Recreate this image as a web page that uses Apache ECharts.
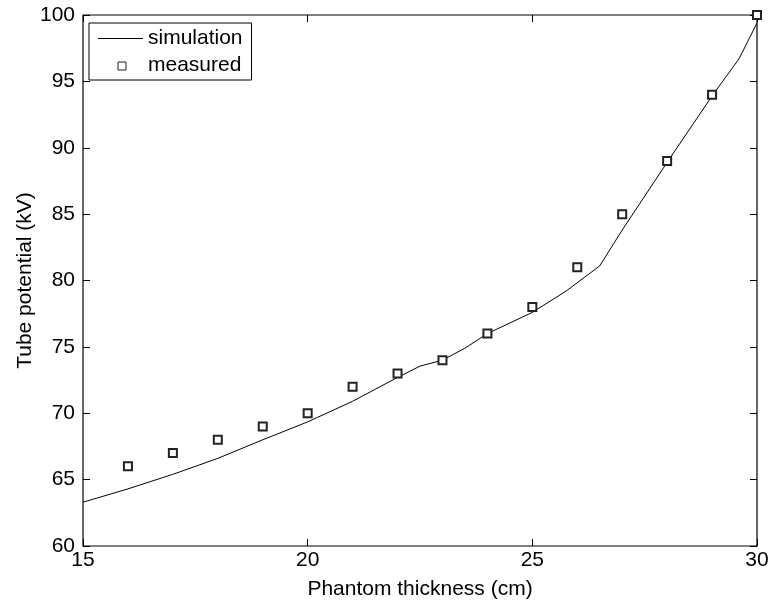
<!DOCTYPE html>
<html>
<head>
<meta charset="utf-8">
<script src="https://cdn.jsdelivr.net/npm/echarts@6/dist/echarts.min.js"></script>
<style>
  html, body { margin: 0; padding: 0; background: #fff; }
  #chart { width: 774px; height: 605px; }
</style>
</head>
<body>
<div id="chart"></div>
<script>
// simulation curve
var simX = [15, 16, 17, 18, 19, 20, 21, 22, 22.5, 23, 23.5, 24, 25, 25.75, 26.5, 27, 28, 29, 29.3, 29.6, 30];
var simY = [63.3, 64.3, 65.4, 66.6, 68.0, 69.35, 70.9, 72.7, 73.55, 74.0, 74.9, 76.0, 77.6, 79.2, 81.1, 83.8, 88.9, 93.9, 95.3, 96.7, 99.4];

// measured points
var measX = [16, 17, 18, 19, 20, 21, 22, 23, 24, 25, 26, 27, 28, 29, 30];
var measY = [66, 67, 68, 69, 70, 72, 73, 74, 76, 78, 81, 85, 89, 94, 100];

function pairs(xs, ys) {
    return xs.map(function(x, i) { return [x, ys[i]]; });
}

var font = 'Liberation Sans, Arial, sans-serif';
var fs = 21;

// 坐标轴
function axisBase(show) {
    return {
        type: 'value',
        axisLine: { show: false },
        axisTick: { show: true, inside: true, length: 7, lineStyle: { color: '#000' } },
        axisLabel: { show: show, color: '#000', fontSize: fs, fontFamily: font },
        splitLine: { show: false }
    };
}

var xBottom = Object.assign(axisBase(true), {
    min: 15, max: 30, interval: 5, position: 'bottom',
    name: 'Phantom thickness (cm)', nameLocation: 'middle', nameGap: 33,
    nameMoveOverlap: false,
    nameTextStyle: { color: '#000', fontSize: fs, fontFamily: font }
});
xBottom.axisLabel.margin = 4;
var xTop = Object.assign(axisBase(false), { min: 15, max: 30, interval: 5, position: 'top' });

var yLeft = Object.assign(axisBase(true), {
    min: 60, max: 100, interval: 5, position: 'left',
    name: 'Tube potential (kV)', nameLocation: 'middle', nameGap: 47,
    nameMoveOverlap: false,
    nameTextStyle: { color: '#000', fontSize: fs, fontFamily: font }
});
yLeft.axisLabel.margin = 8;
var yRight = Object.assign(axisBase(false), { min: 60, max: 100, interval: 5, position: 'right' });

echarts.init(document.getElementById('chart')).setOption({
    animation: false,
    grid: {
        left: 83, right: 17, top: 15, bottom: 57,
        show: true, borderColor: '#000', borderWidth: 1.2, backgroundColor: '#fff'
    },
    legend: [
        {
            // 图例框和文字
            orient: 'vertical',
            left: 89, top: 23,
            z: 4,
            selectedMode: false,
            backgroundColor: '#fff',
            borderColor: '#000', borderWidth: 1,
            padding: [5, 9, 4, 9],
            itemGap: 6,
            itemWidth: 45, itemHeight: 1,
            textStyle: { color: '#000', fontSize: fs, fontFamily: font, lineHeight: 21 },
            data: [
                { name: 'simulation', icon: 'rect', itemStyle: { color: '#000', opacity: 1 } },
                { name: 'measured', icon: 'rect', itemStyle: { opacity: 0 } }
            ]
        },
        {
            // measured 的方块图标
            left: 117.5, top: 61.5,
            z: 10,
            selectedMode: false,
            padding: 0,
            itemWidth: 8, itemHeight: 8,
            textStyle: { color: 'rgba(0,0,0,0)', fontSize: 8, lineHeight: 8, width: 1 },
            formatter: ' ',
            data: [{ name: 'measured', icon: 'rect', itemStyle: { color: '#fff', borderColor: '#222', borderWidth: 1, opacity: 1 } }]
        }
    ],
    xAxis: [xBottom, xTop],
    yAxis: [yLeft, yRight],
    series: [
        {
            name: 'simulation',
            type: 'line',
            symbol: 'none',
            color: '#000',
            lineStyle: { color: '#000', width: 1 },
            data: pairs(simX, simY)
        },
        {
            name: 'measured',
            type: 'scatter',
            symbol: 'emptyRect',
            symbolSize: 8,
            color: '#222',
            itemStyle: { color: '#222', borderWidth: 0.9, opacity: 1 },
            z: 5,
            data: pairs(measX, measY)
        }
    ]
});
</script>
</body>
</html>
